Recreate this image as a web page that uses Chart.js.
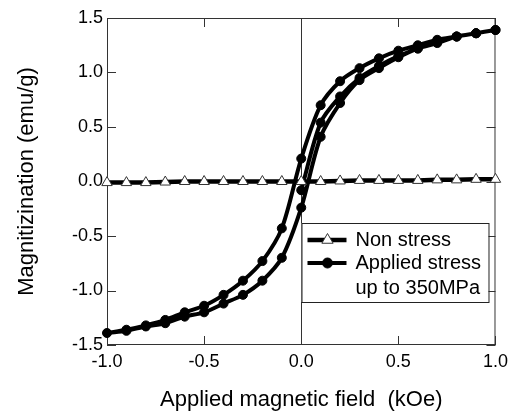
<!DOCTYPE html>
<html>
<head>
<meta charset="utf-8">
<script src="https://cdn.jsdelivr.net/npm/chart.js@4.4.0/dist/chart.umd.min.js"></script>
<style>
  html, body { margin: 0; padding: 0; background: #fff; }
</style>
</head>
<body>
<canvas id="canvas" width="514" height="412"></canvas>
<script>
const FONT = "'Liberation Sans', Arial, sans-serif"

// non stress (open triangles)
const fieldSteps = [-1.0, -0.9, -0.8, -0.7, -0.6, -0.5, -0.4, -0.3, -0.2, -0.1, 0.0,
                    0.1, 0.2, 0.3, 0.4, 0.5, 0.6, 0.7, 0.8, 0.9, 1.0]
const nonStress = [-0.01, -0.01, -0.01, -0.005, 0, 0, 0, 0, 0, 0, 0,
                   0, 0.005, 0.01, 0.01, 0.01, 0.01, 0.015, 0.015, 0.02, 0.02]

// applied stress: initial curve, then down branch, then up branch
const initialField = [0.0, 0.1, 0.2, 0.3, 0.4, 0.5, 0.6, 0.7, 0.8, 0.9, 1.0]
const initialMag = [-0.08, 0.54, 0.78, 0.95, 1.06, 1.15, 1.22, 1.28, 1.33, 1.36, 1.39]
const downField = fieldSteps.slice().reverse()
const downMag = [1.39, 1.36, 1.33, 1.30, 1.25, 1.20, 1.13, 1.04, 0.92, 0.70, 0.21,
                 -0.43, -0.73, -0.91, -1.04, -1.14, -1.20, -1.27, -1.32, -1.36, -1.39]
const upField = fieldSteps
const upMag = [-1.39, -1.37, -1.33, -1.30, -1.24, -1.20, -1.12, -1.04, -0.91, -0.70, -0.24,
               0.41, 0.72, 0.93, 1.04, 1.14, 1.22, 1.27, 1.33, 1.36, 1.39]

const xTicks = [-1.0, -0.5, 0.0, 0.5, 1.0]
const yTicks = [-1.5, -1.0, -0.5, 0.0, 0.5, 1.0, 1.5]

function pts(xs, ys) {
  return xs.map(function(x, i) { return {x: x, y: ys[i]} })
}

const stressPoints = pts(initialField, initialMag)
  .concat(pts(downField, downMag).slice(1))
  .concat(pts(upField, upMag).slice(1))

// frame, inner ticks and the zero-field line
const framePlugin = {
  id: 'frame',
  beforeDatasetsDraw(chart) {
    const ctx = chart.ctx, a = chart.chartArea
    const xs = chart.scales.x, ys = chart.scales.y
    const tl = 9
    ctx.save()
    ctx.strokeStyle = '#333'
    ctx.lineWidth = 1
    ctx.strokeRect(a.left + 0.5, a.top + 0.5, a.right - a.left - 1, a.bottom - a.top - 1)
    ctx.beginPath()
    const x0 = Math.round(xs.getPixelForValue(0)) + 0.5
    ctx.moveTo(x0, a.top); ctx.lineTo(x0, a.bottom)
    xTicks.forEach(function(v) {
      const px = Math.round(xs.getPixelForValue(v)) + 0.5
      ctx.moveTo(px, a.bottom); ctx.lineTo(px, a.bottom - tl)
      ctx.moveTo(px, a.top); ctx.lineTo(px, a.top + tl)
    })
    yTicks.forEach(function(v) {
      const py = Math.round(ys.getPixelForValue(v)) + 0.5
      ctx.moveTo(a.left, py); ctx.lineTo(a.left + tl, py)
      ctx.moveTo(a.right, py); ctx.lineTo(a.right - tl, py)
    })
    ctx.stroke()
    ctx.restore()
  }
}

// boxed legend inside the plot
const legendPlugin = {
  id: 'boxLegend',
  afterDraw(chart) {
    const ctx = chart.ctx, a = chart.chartArea
    const bx = a.right - 194, by = a.top + 205, bw = 187, bh = 79
    ctx.save()
    ctx.fillStyle = '#fff'
    ctx.fillRect(bx, by, bw, bh)
    ctx.strokeStyle = '#222'
    ctx.lineWidth = 1
    ctx.strokeRect(bx + 0.5, by + 0.5, bw, bh)
    const rows = [17, 40]
    chart.data.datasets.forEach(function(ds, i) {
      const cy = by + rows[i]
      const lx = bx + 6, rx = bx + 45, mx = bx + 26
      ctx.strokeStyle = ds.borderColor
      ctx.lineWidth = ds.borderWidth
      ctx.beginPath(); ctx.moveTo(lx, cy); ctx.lineTo(rx, cy); ctx.stroke()
      ctx.fillStyle = ds.pointBackgroundColor
      ctx.strokeStyle = ds.pointBorderColor
      ctx.lineWidth = ds.pointBorderWidth
      const r = ds.pointRadius + 0.5
      ctx.beginPath()
      if (ds.pointStyle === 'triangle') {
        ctx.moveTo(mx, cy - r)
        ctx.lineTo(mx + r * Math.sin(Math.PI / 3), cy + r / 2)
        ctx.lineTo(mx - r * Math.sin(Math.PI / 3), cy + r / 2)
        ctx.closePath()
      } else {
        ctx.arc(mx, cy, r, 0, Math.PI * 2)
      }
      ctx.fill(); ctx.stroke()
      ctx.fillStyle = '#000'
      ctx.font = '20px ' + FONT
      ctx.textBaseline = 'middle'
      ds.label.split('\n').forEach(function(line, j) {
        ctx.fillText(line, bx + 54, cy + j * 25)
      })
    })
    ctx.restore()
  }
}

var ctx = document.getElementById('canvas').getContext('2d')
var chart = new Chart(ctx, {
  type: 'scatter',
  data: {
    datasets: [{
      label: 'Non stress',
      data: pts(fieldSteps, nonStress),
      showLine: true,
      borderColor: '#000',
      borderWidth: 4.5,
      pointStyle: 'triangle',
      pointRadius: 6,
      pointBackgroundColor: '#fff',
      pointBorderColor: '#333',
      pointBorderWidth: 1,
      clip: false
    }, {
      label: 'Applied stress\nup to 350MPa',
      data: stressPoints,
      showLine: true,
      tension: 0.3,
      borderColor: '#000',
      borderWidth: 4,
      pointStyle: 'circle',
      pointRadius: 4.5,
      pointBackgroundColor: '#000',
      pointBorderColor: '#000',
      pointBorderWidth: 1,
      clip: false
    }]
  },
  options: {
    responsive: false,
    animation: false,
    layout: { padding: { top: 18, right: 13, left: 0, bottom: 0 } },
    plugins: { legend: { display: false }, tooltip: { enabled: false } },
    scales: {
      x: {
        type: 'linear', min: -1, max: 1,
        afterBuildTicks: function(s) { s.ticks = xTicks.map(function(v) { return {value: v} }) },
        afterFit: function(s) { s.height = 67 },
        grid: { display: false, drawTicks: false },
        border: { display: false },
        ticks: { padding: 6, color: '#000', autoSkip: false, maxRotation: 0,
                 font: { size: 18, family: FONT },
                 callback: function(v) { return v.toFixed(1) } },
        title: { display: true, text: 'Applied magnetic field  (kOe)', color: '#000',
                 font: { size: 22, family: FONT, lineHeight: 1.1 }, padding: { top: 0, bottom: 0 } }
      },
      y: {
        type: 'linear', min: -1.5, max: 1.5,
        afterBuildTicks: function(s) { s.ticks = yTicks.map(function(v) { return {value: v} }) },
        afterFit: function(s) { s.width = 107 },
        grid: { display: false, drawTicks: false },
        border: { display: false },
        ticks: { padding: 4, color: '#000', autoSkip: false,
                 font: { size: 18, family: FONT },
                 callback: function(v) { return v.toFixed(1) } },
        title: { display: true, text: 'Magnitizination (emu/g)', color: '#000',
                 font: { size: 22, family: FONT, lineHeight: 1.1 }, padding: { top: 15, bottom: 0 } }
      }
    }
  },
  plugins: [framePlugin, legendPlugin]
})
</script>
</body>
</html>
